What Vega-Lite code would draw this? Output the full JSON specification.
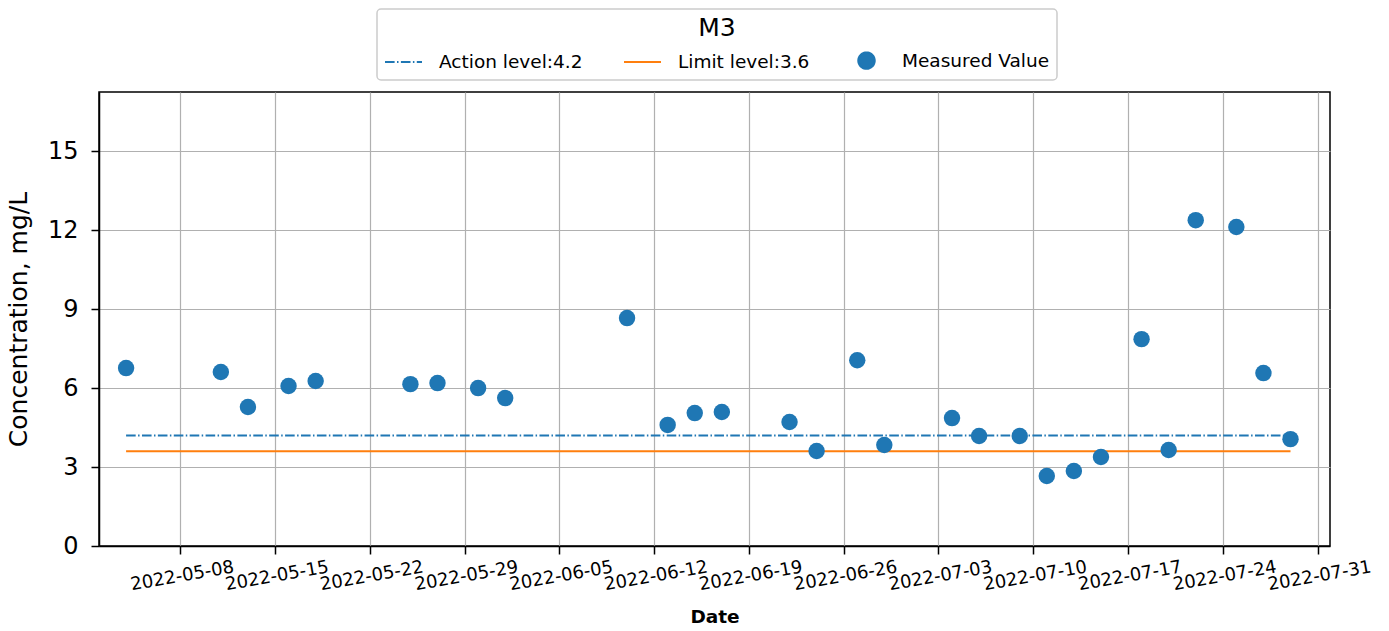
{
  "$schema": "https://vega.github.io/schema/vega-lite/v6.json",
  "width": 1231,
  "height": 454,
  "autosize": "none",
  "padding": {"left": 99, "top": 92, "right": 59, "bottom": 85},
  "background": "white",
  "config": {
    "font": "DejaVu Sans",
    "view": {"stroke": "black", "strokeWidth": 1.5},
    "axis": {
      "domainColor": "black", "domainWidth": 1.5, "tickColor": "black", "tickWidth": 1.5, "tickSize": 8,
      "gridColor": "#b0b0b0", "gridWidth": 1.2, "labelColor": "black", "titleColor": "black"
    }
  },
  "data": {
    "values": [
      {"date": "2022-05-04T00:00:00", "value": 4.2, "series": "Action level:4.2"},
      {"date": "2022-07-29T00:00:00", "value": 4.2, "series": "Action level:4.2"},
      {"date": "2022-05-04T00:00:00", "value": 3.6, "series": "Limit level:3.6"},
      {"date": "2022-07-29T00:00:00", "value": 3.6, "series": "Limit level:3.6"},
      {"date": "2022-05-04T00:00:00", "value": 6.76, "series": "Measured Value"},
      {"date": "2022-05-11T00:00:00", "value": 6.61, "series": "Measured Value"},
      {"date": "2022-05-13T00:00:00", "value": 5.28, "series": "Measured Value"},
      {"date": "2022-05-16T00:00:00", "value": 6.08, "series": "Measured Value"},
      {"date": "2022-05-18T00:00:00", "value": 6.27, "series": "Measured Value"},
      {"date": "2022-05-25T00:00:00", "value": 6.15, "series": "Measured Value"},
      {"date": "2022-05-27T00:00:00", "value": 6.19, "series": "Measured Value"},
      {"date": "2022-05-30T00:00:00", "value": 6.0, "series": "Measured Value"},
      {"date": "2022-06-01T00:00:00", "value": 5.62, "series": "Measured Value"},
      {"date": "2022-06-10T00:00:00", "value": 8.66, "series": "Measured Value"},
      {"date": "2022-06-13T00:00:00", "value": 4.6, "series": "Measured Value"},
      {"date": "2022-06-15T00:00:00", "value": 5.05, "series": "Measured Value"},
      {"date": "2022-06-17T00:00:00", "value": 5.09, "series": "Measured Value"},
      {"date": "2022-06-22T00:00:00", "value": 4.71, "series": "Measured Value"},
      {"date": "2022-06-24T00:00:00", "value": 3.61, "series": "Measured Value"},
      {"date": "2022-06-27T00:00:00", "value": 7.06, "series": "Measured Value"},
      {"date": "2022-06-29T00:00:00", "value": 3.84, "series": "Measured Value"},
      {"date": "2022-07-04T00:00:00", "value": 4.86, "series": "Measured Value"},
      {"date": "2022-07-06T00:00:00", "value": 4.18, "series": "Measured Value"},
      {"date": "2022-07-09T00:00:00", "value": 4.18, "series": "Measured Value"},
      {"date": "2022-07-11T00:00:00", "value": 2.66, "series": "Measured Value"},
      {"date": "2022-07-13T00:00:00", "value": 2.85, "series": "Measured Value"},
      {"date": "2022-07-15T00:00:00", "value": 3.38, "series": "Measured Value"},
      {"date": "2022-07-18T00:00:00", "value": 7.86, "series": "Measured Value"},
      {"date": "2022-07-20T00:00:00", "value": 3.65, "series": "Measured Value"},
      {"date": "2022-07-22T00:00:00", "value": 12.38, "series": "Measured Value"},
      {"date": "2022-07-25T00:00:00", "value": 12.12, "series": "Measured Value"},
      {"date": "2022-07-27T00:00:00", "value": 6.57, "series": "Measured Value"},
      {"date": "2022-07-29T00:00:00", "value": 4.06, "series": "Measured Value"}
    ]
  },
  "encoding": {
    "x": {
      "field": "date", "type": "temporal",
      "scale": {"domain": [{"year": 2022, "month": 5, "date": 2}, {"year": 2022, "month": 7, "date": 31, "hours": 22}]},
      "axis": {
        "title": "Date", "titleFontSize": 18.5, "titleFontWeight": "bold", "titlePadding": 14,
        "format": "%Y-%m-%d", "labelAngle": -10, "labelAlign": "center", "labelBaseline": "top",
        "labelFontSize": 18, "labelPadding": 13, "labelOverlap": false, "labelFlush": false,
        "values": [
          {"year": 2022, "month": 5, "date": 8}, {"year": 2022, "month": 5, "date": 15},
          {"year": 2022, "month": 5, "date": 22}, {"year": 2022, "month": 5, "date": 29},
          {"year": 2022, "month": 6, "date": 5}, {"year": 2022, "month": 6, "date": 12},
          {"year": 2022, "month": 6, "date": 19}, {"year": 2022, "month": 6, "date": 26},
          {"year": 2022, "month": 7, "date": 3}, {"year": 2022, "month": 7, "date": 10},
          {"year": 2022, "month": 7, "date": 17}, {"year": 2022, "month": 7, "date": 24},
          {"year": 2022, "month": 7, "date": 31}
        ]
      }
    },
    "y": {
      "field": "value", "type": "quantitative",
      "scale": {"domain": [0, 17.25], "nice": false, "zero": false},
      "axis": {
        "title": "Concentration, mg/L", "titleFontSize": 25, "titleFontWeight": "normal", "titlePadding": 16,
        "values": [0, 3, 6, 9, 12, 15], "labelFontSize": 24, "labelPadding": 13
      }
    },
    "color": {
      "field": "series", "type": "nominal",
      "scale": {"domain": ["Action level:4.2", "Limit level:3.6", "Measured Value"], "range": ["#1f77b4", "#ff7f0e", "#1f77b4"]},
      "legend": {
        "title": "M3", "orient": "none", "legendX": 278, "legendY": -83,
        "direction": "horizontal", "columns": 3, "columnPadding": 37,
        "titleAnchor": "middle", "titleFontSize": 25, "titleFontWeight": "normal", "titleColor": "black",
        "titlePadding": 0, "labelFontSize": 18.5, "labelColor": "black", "labelOffset": 16,
        "symbolSize": 1369, "padding": 7, "strokeColor": "#cccccc", "cornerRadius": 4, "fillColor": "white",
        "encode": {
          "legend": {"update": {"strokeWidth": {"value": 1.5}}},
          "symbols": {
            "update": {
              "shape": {"signal": "datum.value === 'Measured Value' ? 'circle' : 'stroke'"},
              "size": {"signal": "datum.value === 'Measured Value' ? 270 : 1369"},
              "fill": {"signal": "datum.value === 'Measured Value' ? '#1f77b4' : 'transparent'"},
              "stroke": {"signal": "datum.value === 'Limit level:3.6' ? '#ff7f0e' : (datum.value === 'Measured Value' ? 'transparent' : '#1f77b4')"},
              "strokeWidth": {"value": 2},
              "strokeDash": {"signal": "datum.value === 'Action level:4.2' ? [9.6, 2.4, 1.5, 2.4] : [1, 0]"},
              "opacity": {"value": 1}
            }
          }
        }
      }
    }
  },
  "layer": [
    {
      "transform": [{"filter": "datum.series !== 'Measured Value'"}],
      "mark": {"type": "line", "strokeWidth": 2},
      "encoding": {
        "strokeDash": {
          "field": "series", "type": "nominal",
          "scale": {"domain": ["Action level:4.2", "Limit level:3.6"], "range": [[9.6, 2.4, 1.5, 2.4], [1, 0]]},
          "legend": null
        }
      }
    },
    {
      "transform": [{"filter": "datum.series === 'Measured Value'"}],
      "mark": {"type": "point", "filled": true, "opacity": 1, "size": 270},
      "encoding": {}
    }
  ]
}
